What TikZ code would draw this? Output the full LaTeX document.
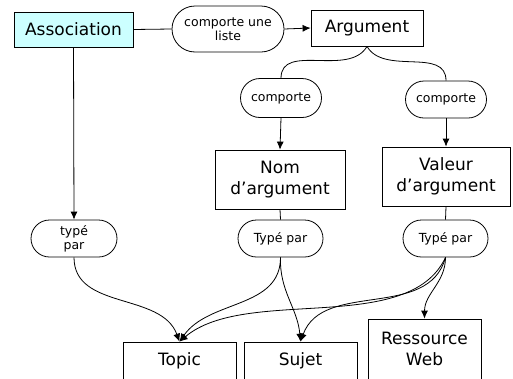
\documentclass[tikz,border=0pt]{standalone}
\usepackage{fontspec}
\setmainfont{DejaVu Sans}
\usetikzlibrary{shapes.misc,arrows.meta}
\usepackage{xcolor}
\definecolor{assocfill}{RGB}{204,255,255}

\begin{document}
\begin{tikzpicture}[x=1pt,y=-1pt,>={Latex[length=8pt,width=7pt]},line width=0.8pt,
  boite/.style={draw, rectangle, inner sep=2pt, align=center, font=\fontsize{17}{21}\selectfont},
  lien/.style={draw, rounded rectangle, inner sep=2pt, align=center, font=\fontsize{12.5}{14}\selectfont}]
\useasboundingbox (0,0) rectangle (513,378);

%Noeuds oben
\node[boite, fill=assocfill, minimum width=119pt, minimum height=35pt] (assoc) at (73.5,29.5) {Association};
\node[lien, minimum width=116pt, minimum height=46pt] (liste) at (228,29) {comporte une\\liste};
\node[boite, minimum width=112pt, minimum height=36pt] (arg) at (367,28) {Argument};

%Mitte
\node[lien, minimum width=85pt, minimum height=39pt] (comp1) at (281,98) {comporte};
\node[lien, minimum width=85pt, minimum height=37pt] (comp2) at (446,99.5) {comporte};
\node[boite, minimum width=130pt, minimum height=59pt] (nom) at (280,179.5) {Nom\\d’argument};
\node[boite, minimum width=128pt, minimum height=59pt] (valeur) at (446,176.5) {Valeur\\d’argument};
\node[lien, minimum width=90pt, minimum height=37pt] (type1) at (74,238.5) {typé\\par};
\node[lien, minimum width=89pt, minimum height=37pt] (type2) at (280.5,238.5) {Typé par};
\node[lien, minimum width=89pt, minimum height=37pt] (type3) at (445.5,238.5) {Typé par};

%unten (abgeschnitten)
\node[boite, minimum width=113pt, minimum height=38pt] (topic) at (179.5,361) {Topic};
\node[boite, minimum width=113pt, minimum height=38pt] (sujet) at (300.5,361) {Sujet};
\node[boite, minimum width=113pt, minimum height=60pt] (web) at (424.5,349) {Ressource\\Web};

%Verbindungen
\draw[-] (assoc.east) -- (liste.west);
\draw[->] (liste.east) -- (arg.west);
\draw[-] (arg.south) to[out=-120,in=90] (comp1.north);
\draw[-] (arg.south) to[out=-60,in=90] (comp2.north);
\draw[->] (comp1.south) -- (nom.north);
\draw[->] (comp2.south) -- (valeur.north);
\draw[->] (assoc.south) -- (type1.north);
\draw[-] (nom.south) -- (type2.north);
\draw[-] (valeur.south) -- (type3.north);

\draw[->] (type1.south) to[out=-90,in=110] (topic.north);
\draw[->] (type2.south) to[out=-90,in=55] (topic.north);
\draw[->] (type2.south) to[out=-92,in=95] (sujet.north);
\draw[->] (type3.south) to[out=-115,in=40,looseness=0.8] (topic.north);
\draw[->] (type3.south) to[out=-105,in=70] (sujet.north);
\draw[->] (type3.south) to[out=-90,in=90] (web.north);

\end{tikzpicture}
\end{document}
